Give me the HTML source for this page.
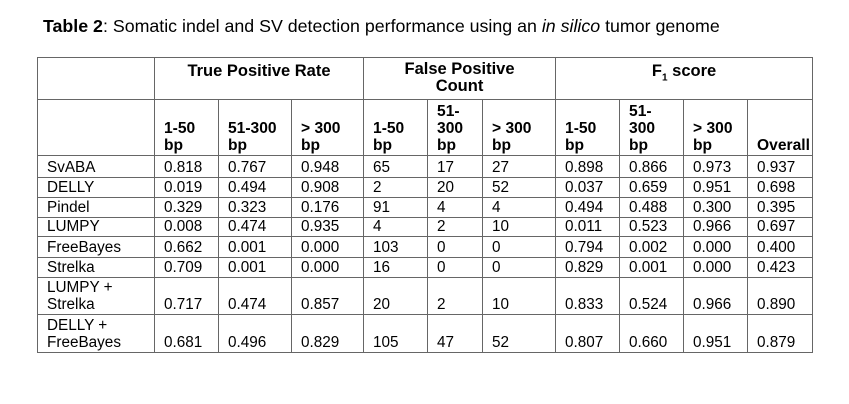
<!DOCTYPE html>
<html><head><meta charset="utf-8"><style>
body{margin:0;background:#fff;width:849px;height:404px;overflow:hidden;font-family:"Liberation Sans",Arial,sans-serif;color:#000;position:relative}
#title{position:absolute;left:43px;top:16px;font-size:17.8px}
table{position:absolute;left:37px;top:57px;border-collapse:collapse;table-layout:fixed;width:775px;font-size:15.3px}
td{border:1.5px solid #666;padding:0 0 1px 9px;vertical-align:bottom;line-height:17px;overflow:hidden;white-space:nowrap}
thead td{font-weight:bold;font-size:15.6px}
.h1 td{vertical-align:top;text-align:center;padding:3px 0 0 0;line-height:20px;font-size:16.5px}
</style></head><body>
<div id="title"><b>Table 2</b>: Somatic indel and SV detection performance using an <i>in silico</i> tumor genome</div>
<table>
<colgroup><col style="width:117px"><col style="width:64px"><col style="width:73px"><col style="width:72px"><col style="width:64px"><col style="width:55px"><col style="width:73px"><col style="width:64px"><col style="width:64px"><col style="width:64px"><col style="width:65px"></colgroup>
<thead>
<tr class="h1" style="height:42px"><td></td><td colspan="3">True Positive Rate</td><td colspan="3" style="line-height:17px">False Positive<br>Count</td><td colspan="4">F<sub style="font-size:10px">1</sub> score</td></tr>
<tr style="height:56px"><td></td><td>1-50<br>bp</td><td>51-300<br>bp</td><td>&gt; 300<br>bp</td><td>1-50<br>bp</td><td>51-<br>300<br>bp</td><td>&gt; 300<br>bp</td><td>1-50<br>bp</td><td>51-<br>300<br>bp</td><td>&gt; 300<br>bp</td><td>Overall</td></tr>
</thead>
<tbody>
<tr style="height:22px"><td>SvABA</td><td>0.818</td><td>0.767</td><td>0.948</td><td>65</td><td>17</td><td>27</td><td>0.898</td><td>0.866</td><td>0.973</td><td>0.937</td></tr>
<tr style="height:20px"><td>DELLY</td><td>0.019</td><td>0.494</td><td>0.908</td><td>2</td><td>20</td><td>52</td><td>0.037</td><td>0.659</td><td>0.951</td><td>0.698</td></tr>
<tr style="height:20px"><td>Pindel</td><td>0.329</td><td>0.323</td><td>0.176</td><td>91</td><td>4</td><td>4</td><td>0.494</td><td>0.488</td><td>0.300</td><td>0.395</td></tr>
<tr style="height:19px"><td>LUMPY</td><td>0.008</td><td>0.474</td><td>0.935</td><td>4</td><td>2</td><td>10</td><td>0.011</td><td>0.523</td><td>0.966</td><td>0.697</td></tr>
<tr style="height:21px"><td>FreeBayes</td><td>0.662</td><td>0.001</td><td>0.000</td><td>103</td><td>0</td><td>0</td><td>0.794</td><td>0.002</td><td>0.000</td><td>0.400</td></tr>
<tr style="height:20px"><td>Strelka</td><td>0.709</td><td>0.001</td><td>0.000</td><td>16</td><td>0</td><td>0</td><td>0.829</td><td>0.001</td><td>0.000</td><td>0.423</td></tr>
<tr style="height:37px"><td>LUMPY +<br>Strelka</td><td>0.717</td><td>0.474</td><td>0.857</td><td>20</td><td>2</td><td>10</td><td>0.833</td><td>0.524</td><td>0.966</td><td>0.890</td></tr>
<tr style="height:38px"><td>DELLY +<br>FreeBayes</td><td>0.681</td><td>0.496</td><td>0.829</td><td>105</td><td>47</td><td>52</td><td>0.807</td><td>0.660</td><td>0.951</td><td>0.879</td></tr>
</tbody></table>
</body></html>
